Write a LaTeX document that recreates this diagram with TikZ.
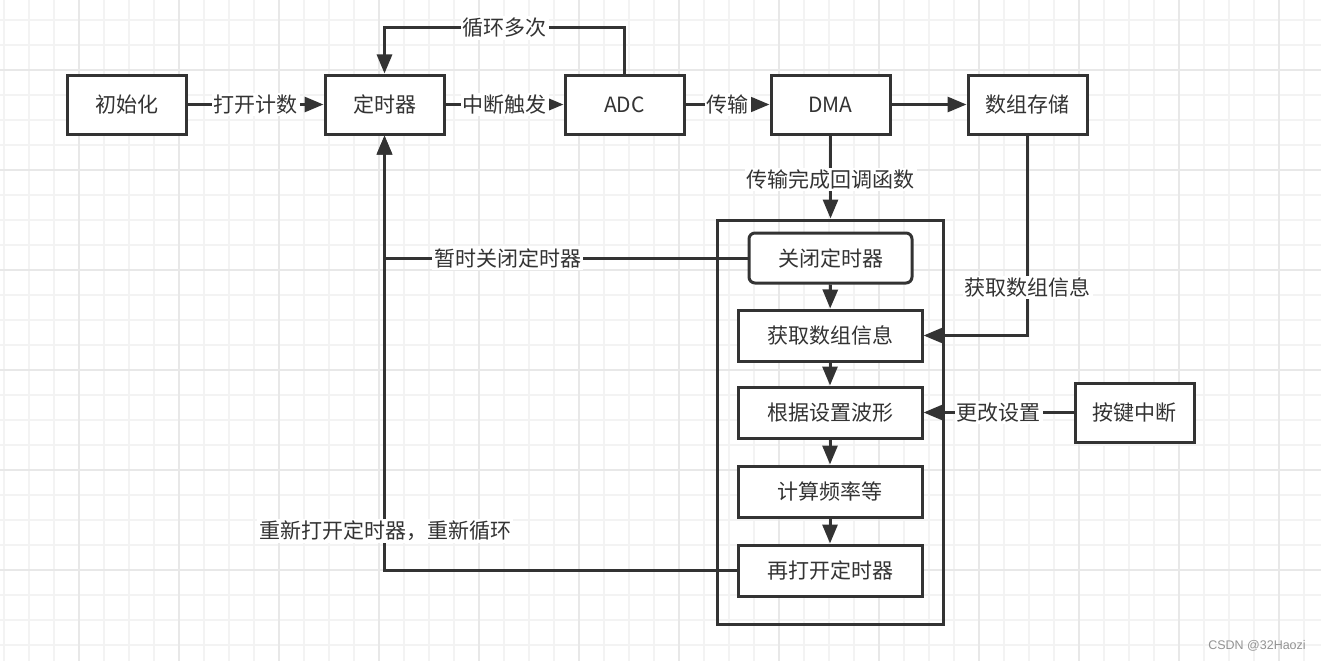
\documentclass[tikz,border=0pt]{standalone}
\usepackage{fontspec}
\setmainfont{Noto Sans CJK SC}
\newfontfamily\wmfont{Liberation Sans}
\usetikzlibrary{arrows.meta,positioning}
\definecolor{ink}{HTML}{333333}
\definecolor{gridminor}{HTML}{F3F3F3}
\definecolor{gridmajor}{HTML}{E8E8E8}
\tikzset{
  box/.style={draw=ink,line width=3pt,fill=white,minimum width=119pt,minimum height=59pt,inner sep=0pt,text=ink,font=\fontsize{21}{25}\selectfont},
  ibox/.style={box,minimum width=184pt,minimum height=51pt},
  rbox/.style={box,rounded corners=6pt,minimum width=163pt,minimum height=50pt},
  conn/.style={draw=ink,line width=3pt},
  arr/.style={conn,-{Triangle[length=19pt,width=15pt]}},
  lbl/.style={fill=white,text=ink,inner sep=2pt,font=\fontsize{21}{25}\selectfont},
}
\begin{document}
\begin{tikzpicture}[x=1pt,y=-1pt]
\useasboundingbox (0,0) rectangle (1321,661);
\fill[white] (0,0) rectangle (1321,661);
\foreach \x in {4,29,...,1321} \draw[gridminor,line width=1.2pt] (\x,0) -- (\x,661);
\foreach \y in {20,45,...,661} \draw[gridminor,line width=1.2pt] (0,\y) -- (1321,\y);
\foreach \x in {79,179,...,1321} \draw[gridmajor,line width=1.5pt] (\x,0) -- (\x,661);
\foreach \y in {70,170,...,661} \draw[gridmajor,line width=1.5pt] (0,\y) -- (1321,\y);

\node[box] (init) at (126.5,104.5) {初始化};
\node[box] (timer) at (384.5,104.5) {定时器};
\node[box] (adc) at (624.5,104.5) {ADC};
\node[box] (dma) at (830.5,104.5) {DMA};
\node[box] (store) at (1027.5,104.5) {数组存储};
\node[draw=ink,line width=3pt,minimum width=226pt,minimum height=404pt,inner sep=0pt] (cont) at (830,422) {};
\node[rbox] (close) at (830.5,258) {关闭定时器};
\node[ibox] (get) at (830,335.5) {获取数组信息};
\node[ibox] (wave) at (830,412.5) {根据设置波形};
\node[ibox] (calc) at (830,491.5) {计算频率等};
\node[ibox] (reopen) at (830,570.5) {再打开定时器};
\node[box] (key) at (1134.5,412.5) {按键中断};

\coordinate (loopA) at (624.5,28);
\coordinate (loopB) at (384.5,28);
\coordinate (storeTurn) at (1027.5,335.5);
\coordinate (closeTurn) at (384.5,258);
\coordinate (reopenTurn) at (384.5,570.5);

\draw[arr] (init) -- node[lbl] {打开计数} (timer);
\draw[arr] (timer) -- node[lbl] {中断触发} (adc);
\draw[arr] (adc) -- node[lbl] {传输} (dma);
\draw[arr] (dma) -- (store);
\draw[arr] (adc.north) -- (loopA) -- node[lbl] {循环多次} (loopB) -- (timer.north);
\draw[arr] (dma.south) -- node[lbl,pos=0.53] {传输完成回调函数} (cont.north -| dma.south);
\draw[arr] (store.south) -- node[lbl,pos=0.76] {获取数组信息} (storeTurn) -- (get.east);
\draw[arr] (close.west) -- node[lbl,pos=0.66] {暂时关闭定时器} (closeTurn) -- (timer.south);
\draw[arr] (reopen.west) -- (reopenTurn) -- (timer.south);
\node[lbl,anchor=center] (relbl) at (385,531) {重新打开定时器，重新循环};
\draw[arr] (key) -- node[lbl] {更改设置} (wave);
\draw[arr] (close) -- (get);
\draw[arr] (get) -- (wave);
\draw[arr] (wave) -- (calc);
\draw[arr] (calc) -- (reopen);

\node[text=gray!85,font=\wmfont\fontsize{12.5}{14}\selectfont,inner sep=0pt] (wm) at (1257,646) {CSDN @32Haozi};
\end{tikzpicture}
\end{document}
